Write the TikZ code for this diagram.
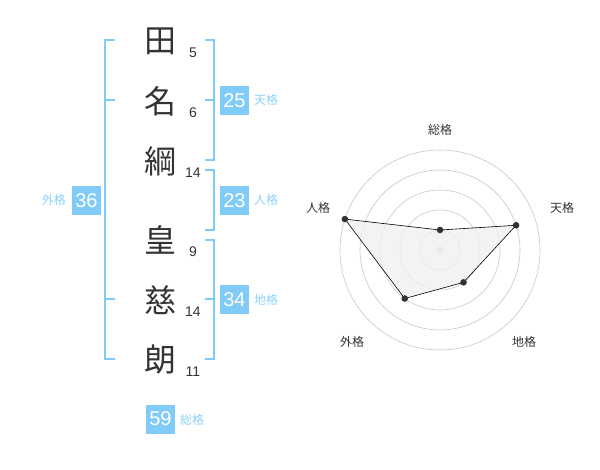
\documentclass[tikz,border=0pt]{standalone}
\usepackage{fontspec}
\setmainfont{Liberation Sans}
\newfontfamily\jp{Noto Sans CJK JP}
\usetikzlibrary{calc}
\definecolor{kakublue}{HTML}{80CBF8}
\definecolor{kakutext}{HTML}{8DD0F8}
\definecolor{ink}{HTML}{333333}
\tikzset{
 kanji/.style={font=\jp\fontsize{32}{32}\selectfont, text=ink, inner sep=0},
 strokes/.style={font=\fontsize{14}{14}\selectfont, text=ink, inner sep=0},
 sumbox/.style={fill=kakublue, text=white, minimum size=29pt, inner sep=0, font=\fontsize{20}{20}\selectfont},
 sumlabel/.style={font=\jp\fontsize{12}{12}\selectfont, text=kakutext, inner sep=0},
 bracket/.style={kakublue, line width=2pt},
 ring/.style={black!22, line width=.6pt},
 axislabel/.style={font=\jp\fontsize{12}{12}\selectfont, text=ink, inner sep=0}
}
\begin{document}
\begin{tikzpicture}[x=1pt,y=-1pt]
\useasboundingbox (0,0) rectangle (600,470);
% name column
\foreach \k/\y/\n [count=\i] in {田/41/5, 名/101/6, 綱/161/14, 皇/240/9, 慈/300/14, 朗/360/11} {
 \node[kanji] (ch\i) at (160,\y) {\k};
 \node[strokes] (st\i) at (193,\y+12) {\n};
}
% brackets
\draw[bracket] (115,40) -| (105,359) -- (115,359);
\draw[bracket] (105,100) --++(10,0);
\draw[bracket] (105,299) --++(10,0);
\draw[bracket] (205,40) -| (214,160) -- (205,160);
\draw[bracket] (214,100) --++(-9,0);
\draw[bracket] (205,170) -| (214,230) -- (205,230);
\draw[bracket] (205,240) -| (214,359) -- (205,359);
\draw[bracket] (214,299) --++(-9,0);
% sums
\node[sumbox] (ten) at (234.5,100.5) {25};
\node[sumlabel, anchor=west] (tenlabel) at (254,100) {天格};
\node[sumbox] (jin) at (234.5,200.5) {23};
\node[sumlabel, anchor=west] (jinlabel) at (254,200) {人格};
\node[sumbox] (chi) at (234.5,300) {34};
\node[sumlabel, anchor=west] (chilabel) at (254,300) {地格};
\node[sumbox] (gai) at (86.5,200.5) {36};
\node[sumlabel, anchor=east] (gailabel) at (66,200) {外格};
\node[sumbox] (sou) at (160.5,419) {59};
\node[sumlabel, anchor=west] (soulabel) at (180,420) {総格};
% radar
\coordinate (c) at (440,250);
\foreach \r in {20,40,...,100}
 \draw[ring] (c) circle[radius=\r pt];
\fill[black!22] (c) circle[radius=3.5pt];
\foreach \name/\a/\v in {sou/-90/1, ten/-18/4, chi/54/2, gai/126/3, jin/198/5}
 \coordinate (p\name) at ($(c)+(\a:\v*20)$);
\fill[black!6, fill opacity=.8] (psou) -- (pten) -- (pchi) -- (pgai) -- (pjin) -- cycle;
\draw[black, line width=.6pt] (psou) -- (pten) -- (pchi) -- (pgai) -- (pjin) -- cycle;
\foreach \name in {sou,ten,chi,gai,jin}
 \fill[ink] (p\name) circle[radius=3.3pt];
\node[axislabel] (lsou) at ($(c)+(0,-120)$) {総格};
\node[axislabel] (lten) at ($(c)+(122,-42)$) {天格};
\node[axislabel] (lchi) at ($(c)+(84,92)$) {地格};
\node[axislabel] (lgai) at ($(c)+(-88,92)$) {外格};
\node[axislabel] (ljin) at ($(c)+(-122,-42)$) {人格};
\end{tikzpicture}
\end{document}
